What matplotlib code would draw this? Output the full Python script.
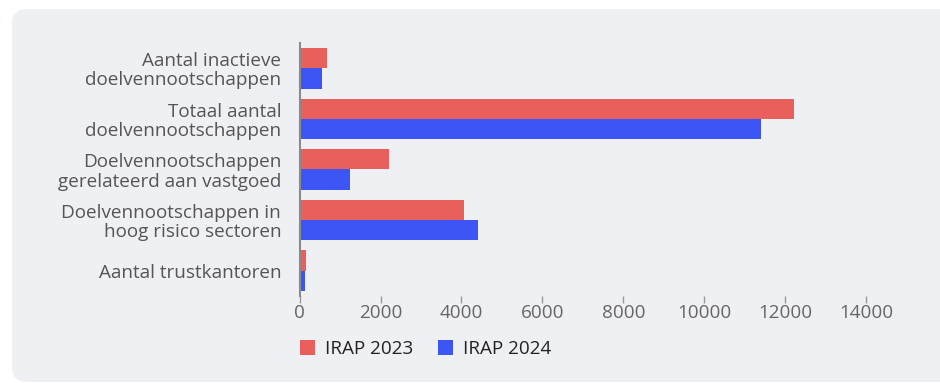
import matplotlib
matplotlib.use("Agg")
import matplotlib.pyplot as plt
import numpy as np
from matplotlib.patches import FancyBboxPatch

# Aantallen per categorie (IRAP 2023 vs IRAP 2024)
categories = [
    "Aantal inactieve\ndoelvennootschappen",
    "Totaal aantal\ndoelvennootschappen",
    "Doelvennootschappen\ngerelateerd aan vastgoed",
    "Doelvennootschappen in\nhoog risico sectoren",
    "Aantal trustkantoren",
]
irap_2023 = [680, 12220, 2210, 4060, 160]
irap_2024 = [555, 11400, 1250, 4410, 135]
series_names = ["IRAP 2023", "IRAP 2024"]
xticks = [0, 2000, 4000, 6000, 8000, 10000, 12000, 14000]

red = "#e85f5c"
blue = "#3d55f5"
panel = "#eff0f4"

plt.rcParams["font.family"] = ["Open Sans", "DejaVu Sans"]

fig = plt.figure(figsize=(9.4, 3.83), dpi=100)
fig.patch.set_facecolor("white")

# Lichtgrijs paneel met afgeronde hoeken (in inches)
bg = FancyBboxPatch((0.12, 0.01), 12, 3.73,
                    boxstyle="round,pad=0,rounding_size=0.15",
                    transform=fig.dpi_scale_trans, facecolor=panel,
                    edgecolor="none", zorder=-5)
fig.patches.append(bg)

W, H = 940, 383
ax = fig.add_axes([299.6 / W, 1 - 296 / H, (866 - 299.6) / W, (296 - 43) / H])
ax.set_facecolor("none")
ax.set_zorder(2)

y = np.arange(len(categories))
h = 0.4
ax.barh(y - h / 2, irap_2023, height=h, color=red, label=series_names[0])
ax.barh(y + h / 2, irap_2024, height=h, color=blue, label=series_names[1])

ax.set_ylim(len(categories) - 0.5, -0.5)
ax.set_xlim(0, 14000)
ax.set_yticks(y, categories, fontsize=13.6, color="#555555", linespacing=1.08)
ax.set_xticks(xticks, [str(t) for t in xticks], fontsize=13.6, color="#666666")
ax.tick_params(axis="y", length=0, pad=13.3)
ax.tick_params(axis="x", length=5, width=1, color="#999999", pad=1)

for s in ["top", "right", "bottom"]:
    ax.spines[s].set_visible(False)
ax.spines["left"].set_color("#8a8a8a")
ax.spines["left"].set_linewidth(1.5)

leg = fig.legend(loc="upper left", bbox_to_anchor=(283 / W, 1 - 323 / H),
                 ncol=2, frameon=False, fontsize=13.6, handlelength=0.78,
                 handleheight=0.8, handletextpad=0.55, columnspacing=1.3,
                 labelcolor="#222222")
leg.set_zorder(3)

fig.savefig("out.png", dpi=100, facecolor="white")
